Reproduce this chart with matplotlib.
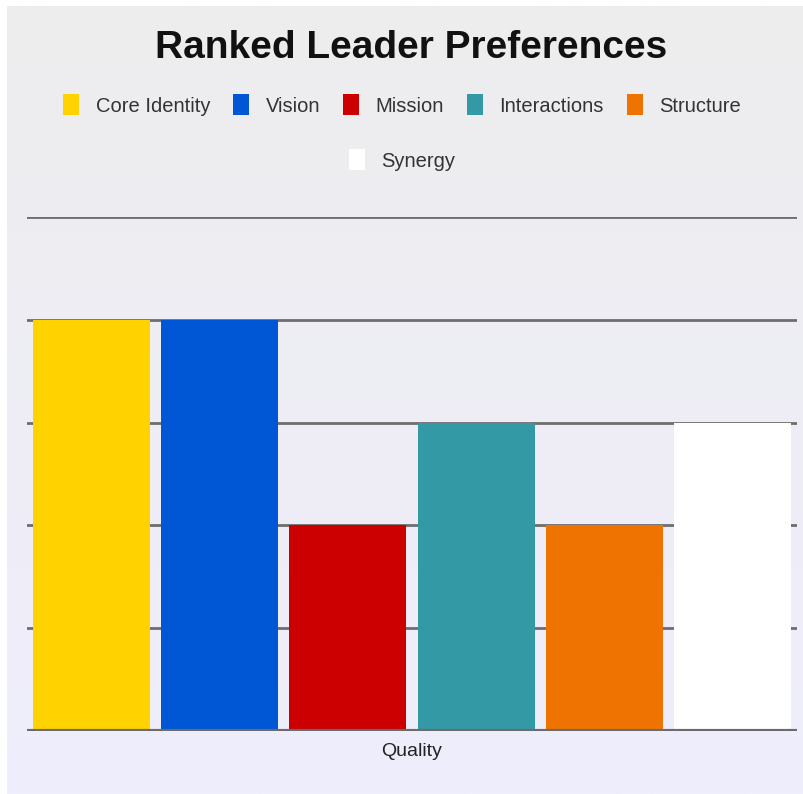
import numpy as np
import matplotlib
matplotlib.use("Agg")
import matplotlib.pyplot as plt
from matplotlib.patches import Patch

# data
categories = ["Core Identity", "Vision", "Mission", "Interactions", "Structure", "Synergy"]
values = [4, 4, 2, 3, 2, 3]
colors = ["#FFD200", "#0057D6", "#CC0000", "#3399A4", "#EE7300", "#FFFFFF"]
title = "Ranked Leader Preferences"
xlabel = "Quality"

plt.rcParams["font.family"] = ["Liberation Sans", "DejaVu Sans"]

W, H = 804, 794
fig = plt.figure(figsize=(W / 100, H / 100), dpi=100, facecolor="white")

# background with soft vertical gradient (grey on top, lavender below)
bg = fig.add_axes([7 / W, 0, 1 - 7 / W, 1 - 6 / H], zorder=-10)
top = np.array([0xED, 0xED, 0xEE]) / 255
bot = np.array([0xEF, 0xEE, 0xFC]) / 255
t = np.linspace(0, 1, 512)[:, None]
grad = (top[None, :] * (1 - t) + bot[None, :] * t)[:, None, :]
bg.imshow(grad, aspect="auto", extent=[0, 1, 0, 1], interpolation="bilinear")
bg.axis("off")

# plot area
ax = fig.add_axes([27 / W, 63 / H, 770 / W, 514 / H])
ax.patch.set_alpha(0)
x = np.arange(len(categories))
ax.bar(x, values, width=0.91, color=colors, zorder=3)
ax.set_xlim(-0.5, len(categories) - 0.5)
ax.set_ylim(0, 5)
ax.set_yticks([1, 2, 3, 4, 5])
ax.yaxis.grid(True, color="#6e6e6e", linewidth=2.0, zorder=1)
ax.axhline(0, color="#6a6a70", linewidth=3.0, zorder=4)
ax.set_xticks([])
ax.tick_params(left=False, labelleft=False)
for s in ax.spines.values():
    s.set_visible(False)
ax.set_xlabel(xlabel, fontsize=14, labelpad=9, color="#222222")

fig.text(411 / W, 1 - 48 / H, title, ha="center", va="center",
         fontsize=28, fontweight="bold", color="#111111")

handles = [Patch(facecolor=c, edgecolor="none") for c in colors]
fig.legend(handles[:5], categories[:5], loc="center", bbox_to_anchor=(402 / W, 1 - 105 / H),
           ncol=5, frameon=False, fontsize=14.5, handlelength=0.8, handleheight=1.2,
           handletextpad=0.8, columnspacing=1.15, labelcolor="#333333")
fig.legend(handles[5:], categories[5:], loc="center", bbox_to_anchor=(402 / W, 1 - 160 / H),
           ncol=1, frameon=False, fontsize=14.5, handlelength=0.8, handleheight=1.2,
           handletextpad=0.8, labelcolor="#333333")

fig.savefig("out.png", dpi=100)
